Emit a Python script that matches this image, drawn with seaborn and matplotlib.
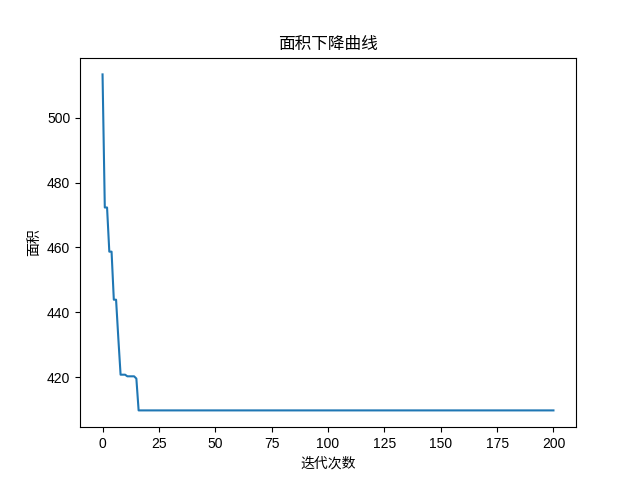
import matplotlib
matplotlib.use("Agg")
import matplotlib.pyplot as plt
import seaborn as sns
import pandas as pd

plt.rcParams['font.family'] = ['Liberation Sans', 'Noto Sans CJK SC', 'DejaVu Sans']
plt.rcParams['axes.unicode_minus'] = False

title = "面积下降曲线"
xlabel = "迭代次数"
ylabel = "面积"

# area value per iteration (0..200)
area_head = [513.3, 472.3, 472.3, 458.7, 458.7, 443.9, 443.9, 432.0,
             420.8, 420.8, 420.8, 420.3, 420.3, 420.3, 420.3, 419.6]
area_tail = [409.8] * 185
area = area_head + area_tail
iterations = list(range(len(area)))

df = pd.DataFrame({"iter": iterations, "area": area})

fig, ax = plt.subplots(figsize=(6.4, 4.8), dpi=100)
fig.subplots_adjust(left=0.125, right=0.9, top=0.88, bottom=0.11)
sns.lineplot(data=df, x="iter", y="area", ax=ax, color="#1f77b4", linewidth=1.5)
ax.set_title(title, fontsize=12)
ax.set_xlabel(xlabel, fontsize=10)
ax.set_ylabel(ylabel, fontsize=10)
ax.set_xticks([0, 25, 50, 75, 100, 125, 150, 175, 200])
ax.set_yticks([420, 440, 460, 480, 500])
fig.savefig("out.png", dpi=100)
